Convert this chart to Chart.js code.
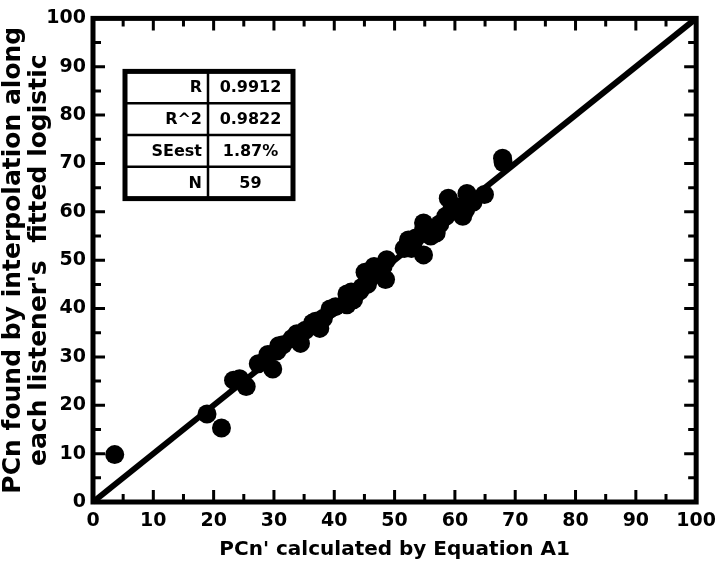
<!DOCTYPE html>
<html>
<head>
<meta charset="utf-8">
<script src="https://cdn.jsdelivr.net/npm/chart.js@4"></script>
<style>
  html, body { margin: 0; padding: 0; background: #fff; }
  #wrap { width: 724px; height: 562px; position: relative; }
</style>
</head>
<body>
<div id="wrap"><canvas id="chart" width="724" height="562"></canvas></div>
<script>
// values
const calcX = [3.6, 18.9, 21.3, 23.3, 24.3, 25.4, 27.4, 28.5, 29.0, 29.8,
  30.5, 30.8, 31.5, 33.0, 33.8, 34.4, 35.2, 36.4, 36.9, 37.6,
  38.2, 39.3, 40.2, 42.1, 42.1, 42.8, 43.2, 44.2, 44.6, 45.1,
  46.0, 46.6, 47.2, 48.1, 48.5, 48.7, 51.6, 52.3, 53.0, 53.5,
  54.8, 54.8, 54.8, 56.0, 56.9, 57.5, 58.5, 58.9, 59.5, 60.5,
  61.3, 61.8, 62.0, 63.0, 64.9, 67.9, 68.0, 52.8, 45.5];
const foundY = [9.8, 18.2, 15.3, 25.2, 25.5, 23.9, 28.6, 29.0, 30.5, 27.5,
  31.2, 32.3, 32.5, 33.8, 34.8, 32.8, 35.5, 37.0, 37.4, 35.9,
  38.0, 39.9, 40.4, 40.8, 43.0, 43.4, 41.8, 43.6, 44.4, 47.5,
  46.5, 48.7, 48.2, 48.7, 46.0, 50.1, 52.4, 54.2, 53.0, 54.6,
  51.1, 56.2, 57.7, 55.0, 55.6, 57.5, 59.1, 62.8, 60.5, 61.0,
  59.1, 60.5, 63.8, 62.0, 63.6, 71.1, 70.2, 52.4, 45.0];
const identityX = [0, 100];
const statNames = ["R", "R^2", "SEest", "N"];
const statValues = ["0.9912", "0.9822", "1.87%", "59"];
const tickValues = [0, 10, 20, 30, 40, 50, 60, 70, 80, 90, 100];

const FONT = "'DejaVu Sans', sans-serif";

const points = calcX.map((x, i) => ({ x: x, y: foundY[i] }));
const identity = identityX.map(v => ({ x: v, y: v }));

// frame with inward ticks on all four sides
const framePlugin = {
  id: 'frame',
  afterDatasetsDraw(chart) {
    const ctx = chart.ctx;
    const a = chart.chartArea;
    const xs = chart.scales.x, ys = chart.scales.y;
    ctx.save();
    ctx.strokeStyle = '#000';
    ctx.lineWidth = 3;
    for (let v = 5; v < 100; v += 5) {
      const len = v % 10 === 0 ? 12 : 8;
      const px = xs.getPixelForValue(v);
      const py = ys.getPixelForValue(v);
      ctx.beginPath();
      ctx.moveTo(px, a.bottom); ctx.lineTo(px, a.bottom - len);
      ctx.moveTo(px, a.top); ctx.lineTo(px, a.top + len);
      ctx.moveTo(a.left, py); ctx.lineTo(a.left + len, py);
      ctx.moveTo(a.right, py); ctx.lineTo(a.right - len, py);
      ctx.stroke();
    }
    ctx.lineWidth = 5;
    ctx.strokeRect(a.left, a.top, a.right - a.left, a.bottom - a.top);
    ctx.restore();
  }
};

// statistics box
const tablePlugin = {
  id: 'statTable',
  afterDraw(chart) {
    const ctx = chart.ctx;
    const a = chart.chartArea;
    const left = a.left + 32, top = a.top + 53;
    const w1 = 83, w2 = 85, rowH = 31.8;
    const h = rowH * statNames.length;
    ctx.save();
    ctx.fillStyle = '#fff';
    ctx.fillRect(left, top, w1 + w2, h);
    ctx.strokeStyle = '#000';
    ctx.lineWidth = 2.5;
    ctx.beginPath();
    for (let i = 1; i < statNames.length; i++) {
      ctx.moveTo(left, top + i * rowH); ctx.lineTo(left + w1 + w2, top + i * rowH);
    }
    ctx.moveTo(left + w1, top); ctx.lineTo(left + w1, top + h);
    ctx.stroke();
    ctx.lineWidth = 5;
    ctx.strokeRect(left, top, w1 + w2, h);
    ctx.fillStyle = '#000';
    ctx.font = 'bold 16px ' + FONT;
    ctx.textBaseline = 'middle';
    statNames.forEach((s, i) => {
      const cy = top + (i + 0.5) * rowH + 1;
      ctx.textAlign = 'right';
      ctx.fillText(s, left + w1 - 6, cy);
      ctx.textAlign = 'center';
      ctx.fillText(statValues[i], left + w1 + w2 / 2, cy);
    });
    ctx.restore();
  }
};

new Chart(document.getElementById('chart'), {
  type: 'scatter',
  data: {
    datasets: [
      {
        type: 'line',
        data: identity,
        borderColor: '#000',
        borderWidth: 6,
        pointRadius: 0,
        clip: false,
        order: 2
      },
      {
        data: points,
        backgroundColor: '#000',
        borderColor: '#000',
        pointRadius: 9.5,
        pointBorderWidth: 0,
        clip: false,
        order: 1
      }
    ]
  },
  plugins: [framePlugin, tablePlugin],
  options: {
    responsive: false,
    animation: false,
    events: [],
    layout: { padding: { left: 0, top: 13, right: 21, bottom: 0 } },
    plugins: { legend: { display: false }, tooltip: { enabled: false } },
    scales: {
      x: {
        type: 'linear', min: 0, max: 100,
        afterBuildTicks: s => { s.ticks = tickValues.map(v => ({ value: v })); },
        afterFit: s => { s.height = 60; },
        grid: { display: false, drawTicks: false },
        border: { display: false },
        ticks: { color: '#000', padding: 8, font: { family: FONT, weight: 'bold', size: 19 } },
        title: {
          display: true, text: "PCn' calculated by Equation A1", color: '#000',
          padding: { top: 0, bottom: 0 },
          font: { family: FONT, weight: 'bold', size: 20 }
        }
      },
      y: {
        type: 'linear', min: 0, max: 100,
        afterBuildTicks: s => { s.ticks = tickValues.map(v => ({ value: v })); },
        afterFit: s => { s.width = 93; },
        grid: { display: false, drawTicks: false },
        border: { display: false },
        ticks: { color: '#000', padding: 7, font: { family: FONT, weight: 'bold', size: 19 } },
        title: {
          display: true, text: ["PCn found by interpolation along", "each listener's  fitted logistic"],
          color: '#000', padding: { top: 0, bottom: 0 },
          font: { family: FONT, weight: 'bold', size: 25, lineHeight: 1.05 }
        }
      }
    }
  }
});
</script>
</body>
</html>
